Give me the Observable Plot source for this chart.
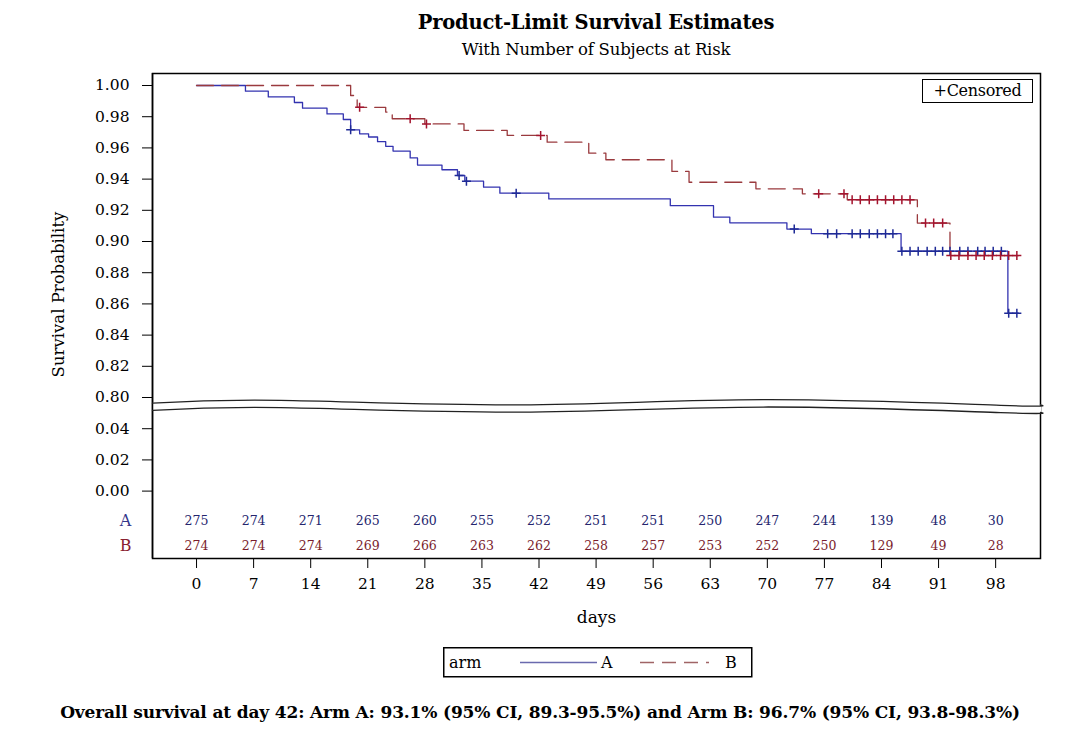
<!DOCTYPE html>
<html><head><meta charset="utf-8">
<script src="https://cdn.jsdelivr.net/npm/d3@7"></script>
<script src="https://cdn.jsdelivr.net/npm/@observablehq/plot@0.6"></script>
<style>
body{margin:0;background:#fff;font-family:"DejaVu Serif",serif;color:#000;}
#wrap{position:relative;width:1080px;height:734px;overflow:hidden;}
.abs{position:absolute;}
</style></head><body>
<div id="wrap">
  <div class="abs" style="left:152px;width:888px;top:11px;text-align:center;font-weight:bold;font-size:19.5px;letter-spacing:-0.2px;">Product-Limit Survival Estimates</div>
  <div class="abs" style="left:152px;width:888px;top:40px;text-align:center;font-size:16.5px;letter-spacing:-0.2px;">With Number of Subjects at Risk</div>
  <div id="chart" class="abs" style="left:0;top:62px;"></div>
  <div class="abs" style="left:922px;top:79px;width:109px;height:22px;border:1px solid #000;font-size:16px;line-height:22px;text-align:center;background:#fff;letter-spacing:-0.3px;">+Censored</div>
  <div id="legend" class="abs" style="left:443px;top:647px;"></div>
  <div class="abs" style="left:0;width:1080px;top:702px;text-align:center;font-weight:bold;font-size:17px;letter-spacing:-0.15px;">Overall survival at day 42: Arm A: 93.1% (95% CI, 89.3-95.5%) and Arm B: 96.7% (95% CI, 93.8-98.3%)</div>
</div>
<script>
// ---------- data ----------
const aTimes = [0, 6.0, 8.8, 12.0, 13.0, 16.0, 18.0, 18.9, 20.0, 21.1, 22.2, 23.2, 24.1, 26.2, 27.1, 30.1, 32.0, 32.9, 35.2, 37.2, 43.2, 58.1, 63.4, 65.4, 72.4, 75.4, 86.4, 99.5, 100.8];
const aSurv  = [1.000, 0.9964, 0.9927, 0.9891, 0.9855, 0.9818, 0.9782, 0.9716, 0.9690, 0.9670, 0.9640, 0.9610, 0.9580, 0.9536, 0.9490, 0.9460, 0.9423, 0.9387, 0.9348, 0.9310, 0.9273, 0.9230, 0.9156, 0.9120, 0.9080, 0.9050, 0.8938, 0.8540, 0.8540];
const aCensored = [18.9, 32.2, 33.1, 39.2, 73.3, 77.4, 78.5, 80.4, 81.4, 82.5, 83.5, 84.5, 85.4, 86.5, 87.5, 88.5, 89.6, 90.6, 91.5, 92.4, 93.6, 94.6, 95.8, 96.7, 97.7, 98.7, 99.6, 100.6];

const bTimes = [0, 18.9, 19.7, 23.2, 24.0, 28.0, 32.8, 38.1, 43.0, 48.1, 50.2, 58.3, 60.4, 68.6, 74.3, 79.8, 88.4, 92.4, 100.8];
const bSurv  = [1.000, 0.9936, 0.9860, 0.9830, 0.9787, 0.9754, 0.9712, 0.9680, 0.9637, 0.9566, 0.9524, 0.9449, 0.9380, 0.9338, 0.9306, 0.9267, 0.9118, 0.8910, 0.8910];
const bCensored = [20.0, 26.2, 28.2, 42.2, 76.3, 79.4, 80.4, 81.4, 82.5, 83.5, 84.5, 85.5, 86.5, 87.5, 89.4, 90.4, 91.5, 92.5, 93.5, 94.6, 95.6, 96.6, 97.6, 98.6, 99.6, 100.6];

const riskDays = [0, 7, 14, 21, 28, 35, 42, 49, 56, 63, 70, 77, 84, 91, 98];
const riskA = [275, 274, 271, 265, 260, 255, 252, 251, 251, 250, 247, 244, 139, 48, 30];
const riskB = [274, 274, 274, 269, 266, 263, 262, 258, 257, 253, 252, 250, 129, 49, 28];

const yTicksUpper = [0.80, 0.82, 0.84, 0.86, 0.88, 0.90, 0.92, 0.94, 0.96, 0.98, 1.00];
const yTicksLower = [0.00, 0.02, 0.04];

// ---------- layout (broken axis) ----------
const lowerShift = 0.74;             // lower panel value -> axis position
const posUpper = v => v;
const posLower = v => v + lowerShift;
const rowAPos = 0.7207, rowBPos = 0.7047;   // at-risk rows inside the frame
const breakX = [-5.4, 10.3, 39.7, 69.5, 98.6, 103.5];
const breakTop = [0.79640, 0.79820, 0.79530, 0.79860, 0.79500, 0.79520];
const breakGap = 0.0047;

const colA = "#3333b0", colB = "#9a3a3e", censA = "#1e2a96", censB = "#a3142e";

const tickPos = [...yTicksLower.map(posLower), ...yTicksUpper.map(posUpper)];
const tickLab = new Map([
  ...yTicksLower.map(v => [posLower(v).toFixed(4), v.toFixed(2)]),
  ...yTicksUpper.map(v => [posUpper(v).toFixed(4), v.toFixed(2)])
]);

const curveA = aTimes.map((t, i) => ({t, s: aSurv[i]}));
const curveB = bTimes.map((t, i) => ({t, s: bSurv[i]}));
const stepAt = (times, surv, x) => { let s = surv[0]; times.forEach((t, i) => { if (t <= x) s = surv[i]; }); return s; };
const cA = aCensored.map(t => ({t, s: stepAt(aTimes, aSurv, t)}));
const cB = bCensored.map(t => ({t, s: stepAt(bTimes, bSurv, t)}));
const wave = breakX.map((x, i) => ({x, top: breakTop[i], bot: breakTop[i] - breakGap}));
const riskRowsA = riskDays.map((d, i) => ({d, n: riskA[i]}));
const riskRowsB = riskDays.map((d, i) => ({d, n: riskB[i]}));

const plus = { draw(ctx, size) { const r = Math.sqrt(size / Math.PI); ctx.moveTo(-r, 0); ctx.lineTo(r, 0); ctx.moveTo(0, -r); ctx.lineTo(0, r); } };

const chart = Plot.plot({
  width: 1080, height: 580,
  marginTop: 11, marginBottom: 84, marginLeft: 152, marginRight: 40,
  style: {fontFamily: "DejaVu Serif", fontSize: "15px", color: "#000", background: "#fff"},
  x: {domain: [-5.4, 103.5]},
  y: {domain: [0.6968, 1.0077]},
  marks: [
    Plot.axisY({ticks: tickPos, tickFormat: p => tickLab.get(p.toFixed(4)), tickSize: 10, tickPadding: 13, fontSize: 15.5, label: null}),
    Plot.axisX({ticks: riskDays, tickSize: 10, tickPadding: 9, fontSize: 15.5, label: null}),
    Plot.line(curveA, {x: "t", y: d => posUpper(d.s), curve: "step-after", stroke: colA, strokeWidth: 1.3}),
    Plot.line(curveB, {x: "t", y: d => posUpper(d.s), curve: "step-after", stroke: colB, strokeWidth: 1.3, strokeDasharray: "17,8"}),
    Plot.dot(cA, {x: "t", y: d => posUpper(d.s), symbol: plus, r: 4.5, stroke: censA, fill: "none", strokeWidth: 1.5}),
    Plot.dot(cB, {x: "t", y: d => posUpper(d.s), symbol: plus, r: 4.5, stroke: censB, fill: "none", strokeWidth: 1.5}),
    Plot.text(riskRowsA, {x: "d", y: rowAPos, text: "n", fill: "#25256e", fontSize: 12.5}),
    Plot.text(riskRowsB, {x: "d", y: rowBPos, text: "n", fill: "#7a1c2c", fontSize: 12.5}),
    Plot.frame({stroke: "#000", strokeWidth: 1.5}),
    Plot.areaY(wave, {x: "x", y1: "bot", y2: "top", fill: "#fff", curve: "natural", dx: 1}),
    Plot.areaY(wave, {x: "x", y1: "bot", y2: "top", fill: "#fff", curve: "natural"}),
    Plot.ruleX([-5.4], {stroke: "#000", strokeWidth: 1.5}),
    Plot.line(wave, {x: "x", y: "top", curve: "natural", stroke: "#222", strokeWidth: 1.3}),
    Plot.line(wave, {x: "x", y: "bot", curve: "natural", stroke: "#222", strokeWidth: 1.3}),
    Plot.text(["A"], {frameAnchor: "left", y: rowAPos, dx: -27, textAnchor: "middle", fill: "#35358a", fontSize: 16}),
    Plot.text(["B"], {frameAnchor: "left", y: rowBPos, dx: -27, textAnchor: "middle", fill: "#8a2030", fontSize: 16}),
    Plot.text(["Survival Probability"], {frameAnchor: "left", y: 0.866, dx: -94, rotate: -90, textAnchor: "middle", fontSize: 16.5}),
    Plot.text(["days"], {frameAnchor: "bottom", dy: 64, fontSize: 17})
  ]
});
document.getElementById("chart").appendChild(chart);

// legend
const ns = "http://www.w3.org/2000/svg";
document.getElementById("legend").innerHTML =
  `<svg xmlns="${ns}" width="310" height="31" style="font-family:'DejaVu Serif';font-size:16px">
    <rect x="0.75" y="0.75" width="308" height="29" fill="#fff" stroke="#000" stroke-width="1.5"/>
    <text x="6" y="21">arm</text>
    <line x1="77" x2="154" y1="15.5" y2="15.5" stroke="#6a6aae" stroke-width="1.5"/>
    <text x="158" y="21">A</text>
    <line x1="197" x2="266" y1="15.5" y2="15.5" stroke="#a06466" stroke-width="1.5" stroke-dasharray="14,8"/>
    <text x="282" y="21">B</text>
  </svg>`;
</script>
</body></html>
